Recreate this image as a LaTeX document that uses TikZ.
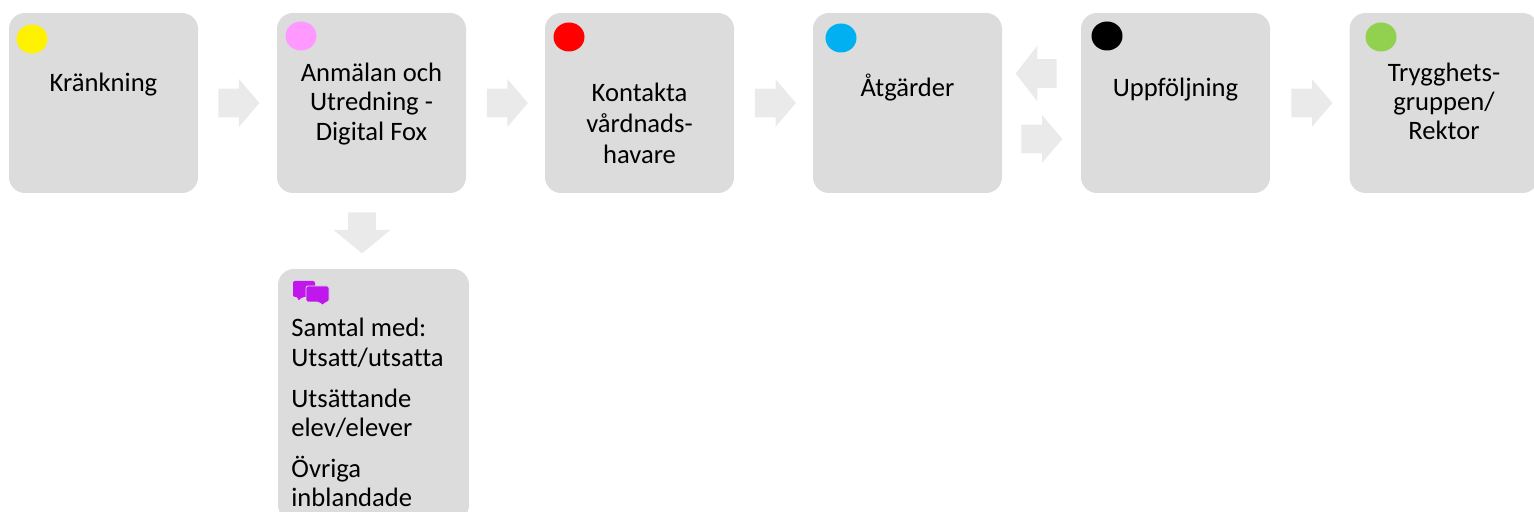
\documentclass[tikz,border=0pt]{standalone}
\usepackage{fontspec}
\setmainfont{Carlito}[Ligatures=NoCommon]
\usetikzlibrary{shapes.arrows,shapes.geometric}

\definecolor{boxgray}{HTML}{DCDCDC}
\definecolor{arrowgray}{HTML}{EAEAEA}
\definecolor{iconpurple}{HTML}{BF17EC}
\definecolor{dotpink}{HTML}{FF99FF}
\definecolor{dotblue}{HTML}{00B0F0}
\definecolor{dotgreen}{HTML}{92D050}

\tikzset{
    stepbox/.style={fill=boxgray, rounded corners=8pt, minimum width=94.5pt, minimum height=90pt, inner sep=0pt},
    steptext/.style={align=center, font=\fontsize{13.3}{14.6}\selectfont, inner sep=0pt},
    dot/.style={fill=#1, ellipse, minimum width=15.5pt, minimum height=14.5pt, inner sep=0pt},
    flow/.style={single arrow, fill=arrowgray, inner sep=0pt, text height=14pt, text depth=0pt, text width=0pt, anchor=tail,
        minimum height=20.5pt, single arrow head extend=4.75pt, single arrow tip angle=99, shape border rotate=#1},
    flow/.default=0
}

\begin{document}
\begin{tikzpicture}[x=0.5pt,y=-0.5pt]

        \path[use as bounding box] (0,0) rectangle (1534,512);
        \clip (0,0) rectangle (1534,512);

        \node[stepbox] at (103.5,103) (krank) {};
        \node[stepbox] at (371.5,103) (anmal) {};
        \node[stepbox] at (639.5,103) (kontakt) {};
        \node[stepbox] at (907.5,103) (atgard) {};
        \node[stepbox] at (1175.5,103) (uppfolj) {};
        \node[stepbox] at (1444,103) (trygg) {};
        \node[stepbox, minimum width=95.5pt, minimum height=126pt] at (373.5,395) (samtal) {};

        \node[dot=yellow] at (32,39) (dotkrank) {};
        \node[dot=dotpink] at (301,36) (dotanmal) {};
        \node[dot=red] at (569,37) (dotkontakt) {};
        \node[dot=dotblue] at (841,38) (dotatgard) {};
        \node[dot=black] at (1107,36) (dotuppfolj) {};
        \node[dot=dotgreen] at (1381,37) (dottrygg) {};

        \node[steptext] at (103.5,84.5) (tkrank) {Kränkning};
        \node[steptext] at (371.5,104) (tanmal) {Anmälan och\\Utredning -\\Digital Fox};
        \node[steptext, font=\fontsize{13.3}{15.4}\selectfont] at (639.5,123.5) (tkontakt) {Kontakta\\vårdnads-\\havare};
        \node[steptext] at (907.5,88) (tatgard) {Åtgärder};
        \node[steptext] at (1175.5,90) (uppf) {Uppföljning};
        \node[steptext] at (1444,101.5) (ttrygg) {Trygghets-\\gruppen/\\Rektor};

        \node[steptext, align=left, anchor=north west] at (291,318) (tsamtal) {Samtal med:\\Utsatt/utsatta\\[6pt]Utsättande\\elev/elever\\[6pt]Övriga\\inblandade};

        \node[flow] at (218,103) (a1) {};
        \node[flow] at (486.5,103) (a2) {};
        \node[flow] at (754.5,103) (a3) {};
        \node[flow=180, single arrow head extend=6.75pt, single arrow tip angle=104] at (1057,73.5) (a4) {};
        \node[flow] at (1021,139) (a5) {};
        \node[flow] at (1291,103) (a6) {};
        \node[flow=270, text height=0pt, text width=13.5pt, single arrow head extend=7.25pt, single arrow tip angle=101] at (362,212) (a7) {};

        % speech bubbles
        \fill[iconpurple, rounded corners=1pt] (293,281) -- (315,281) -- (315,297) -- (302,297) -- (298,301) -- (298,297) -- (293,297) -- cycle;
        \draw[boxgray, fill=iconpurple, rounded corners=1pt] (306,286) -- (329,286) -- (329,302) -- (325,302) -- (323,306) -- (319,302) -- (306,302) -- cycle;

\end{tikzpicture}
\end{document}
